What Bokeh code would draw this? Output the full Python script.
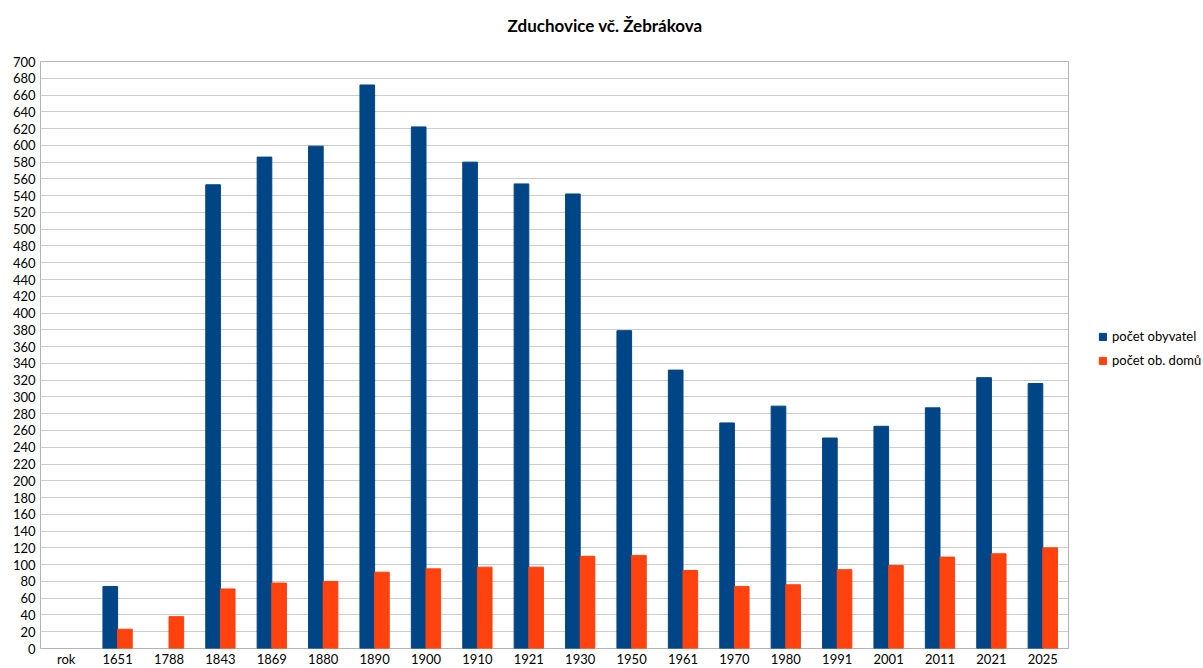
from bokeh.plotting import figure
from bokeh.models import FactorRange, Range1d, SingleIntervalTicker, Legend, LegendItem, Title, ColumnDataSource
from bokeh.transform import dodge
from bokeh.embed import file_html
from bokeh.resources import INLINE

nan = float("nan")
categories = ["rok", "1651", "1788", "1843", "1869", "1880", "1890", "1900", "1910", "1921",
              "1930", "1950", "1961", "1970", "1980", "1991", "2001", "2011", "2021", "2025"]
obyvatel = [nan, 74, nan, 553, 586, 599, 672, 622, 580, 554,
            542, 379, 332, 269, 289, 251, 265, 287, 323, 316]
domu = [nan, 23, 38, 71, 78, 80, 91, 95, 97, 97,
        110, 111, 93, 74, 76, 94, 99, 109, 113, 120]
title_text = "Zduchovice vč. Žebrákova"

FONT = "Lato"
BLUE = "#004586"
ORANGE = "#ff420e"

src = ColumnDataSource(dict(cat=categories, oby=obyvatel, dom=domu))

p = figure(x_range=FactorRange(*categories), y_range=Range1d(0, 700),
           frame_width=1028, frame_height=587,
           min_border_left=40, min_border_right=127, min_border_top=61, min_border_bottom=18,
           output_backend="svg", toolbar_location=None)

# second (blank) line lifts the title towards the top of the page
p.title = Title(text=title_text + "\n ", align="left", offset=467,
                text_font=FONT, text_font_size="17px", text_font_style="bold",
                text_color="#000000", standoff=10)

bw = 0.285
r1 = p.vbar(x=dodge("cat", -bw / 2, range=p.x_range), top="oby", width=bw, source=src,
            fill_color=BLUE, line_color=BLUE)
r2 = p.vbar(x=dodge("cat", bw / 2, range=p.x_range), top="dom", width=bw, source=src,
            fill_color=ORANGE, line_color=ORANGE)

p.yaxis.ticker = SingleIntervalTicker(interval=20, num_minor_ticks=0)
for ax in (p.xaxis[0], p.yaxis[0]):
    ax.axis_line_color = None
    ax.major_tick_line_color = None
    ax.minor_tick_line_color = None
    ax.major_tick_in = 0
    ax.major_tick_out = 0
    ax.major_label_text_font = FONT
    ax.major_label_text_font_size = "13px"
    ax.major_label_text_color = "#000000"
p.yaxis.major_label_standoff = 5
p.xaxis.major_label_standoff = 2

p.xgrid.grid_line_color = None
p.ygrid.grid_line_color = "#cccccc"
p.ygrid.grid_line_width = 1
p.outline_line_color = "#b3b3b3"
p.background_fill_color = "white"
p.border_fill_color = "white"

legend = Legend(items=[LegendItem(label="počet obyvatel", renderers=[r1]),
                       LegendItem(label="počet ob. domů", renderers=[r2])],
                location=(30, 278), orientation="vertical",
                glyph_width=9, glyph_height=9, label_height=20, spacing=4,
                label_standoff=5, padding=0, margin=0,
                border_line_color=None, background_fill_alpha=0,
                label_text_font=FONT, label_text_font_size="13px", label_text_color="#000000")
p.add_layout(legend, "right")

open("out.html", "w").write(file_html(p, INLINE))
